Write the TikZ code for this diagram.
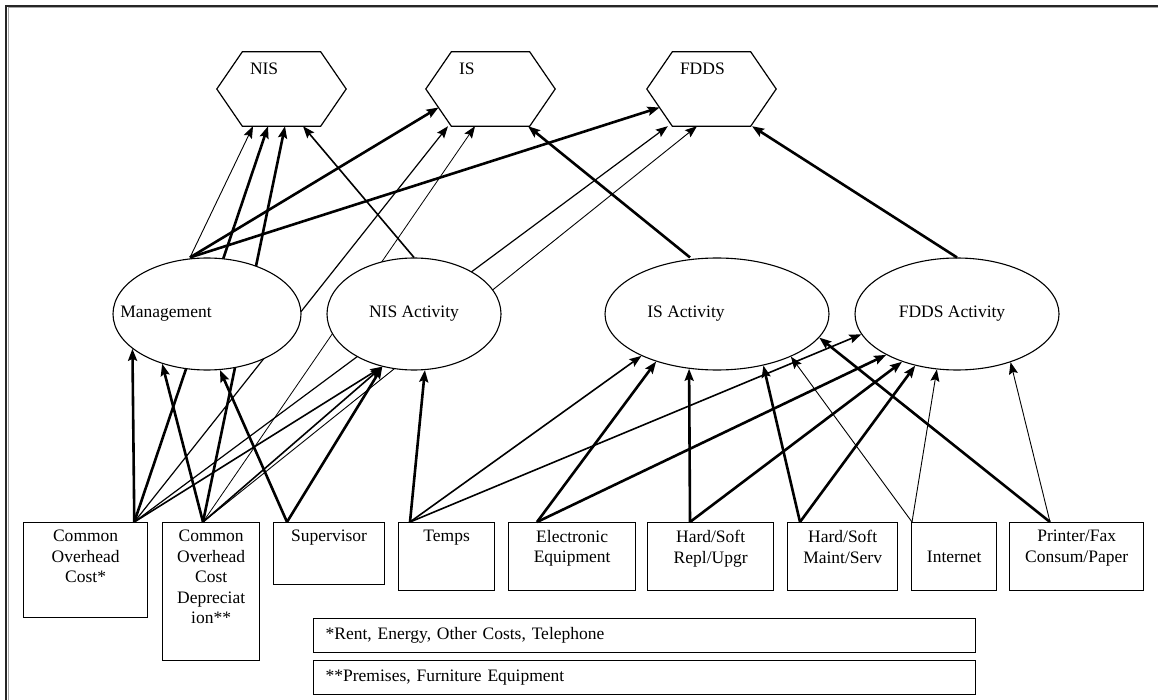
\documentclass[tikz,border=0pt]{standalone}
\usepackage{fontspec}
\setmainfont{Liberation Serif}
\usetikzlibrary{arrows.meta,shapes.geometric}
\pgfdeclarelayer{behind}
\pgfsetlayers{behind,main}

\begin{document}
\begin{tikzpicture}[x=1pt,y=-1pt,
    font=\fontsize{17.5}{20.5}\selectfont,
    hexa/.style={minimum width=129pt,minimum height=74pt,inner sep=0pt},
    hexname/.style={anchor=north west,inner sep=0pt,xshift=33pt,yshift=-11pt},
    activity/.style={ellipse,draw,fill=white,line width=1.1pt,inner sep=0pt,minimum height=112pt},
    resource/.style={draw,line width=1.3pt,anchor=north west,inner sep=0pt,minimum height=68pt},
    restext/.style={anchor=north,align=center,inner sep=0pt,yshift=-8pt},
    note/.style={draw,line width=1.3pt,anchor=north west,inner xsep=12pt,inner ysep=0pt,
                 text width=638pt,minimum height=34pt,align=left},
    alloc/.style={-{Stealth[length=12pt,width=9pt,inset=2pt]}},
    flowheavy/.style={alloc,line width=2.6pt},
    flowmid/.style={alloc,line width=1.6pt},
    flowthin/.style={alloc,line width=0.9pt}]

    \useasboundingbox (0,0) rectangle (1158,700);
    \draw[line width=1.6pt,black!85] (6,700) -- (6,6) -- (1158,6);
    \draw[line width=1pt,black!35] (8,700) -- (8,8) -- (1158,8);

    \node[hexa,label={[hexname]north west:NIS}] (nis) at (281.5,89) {};
    \node[hexa,label={[hexname]north west:IS}] (is) at (490.5,89) {};
    \node[hexa,label={[hexname]north west:FDDS}] (fdds) at (711.5,89) {};
    \foreach \h in {nis,is,fdds}
        \draw[line width=1.2pt] (\h.west) -- ([xshift=25.5pt]\h.north west) -- ([xshift=-25.5pt]\h.north east)
            -- (\h.east) -- ([xshift=-25.5pt]\h.south east) -- ([xshift=25.5pt]\h.south west) -- cycle;

    \node[activity,minimum width=188pt,label={[xshift=-41pt]center:Management}] (mgmt) at (207,314) {};
    \node[activity,minimum width=174pt,label={center:NIS Activity}] (nisact) at (414,314) {};
    \node[activity,minimum width=224pt,label={[xshift=-31pt]center:IS Activity}] (isact) at (717,314) {};
    \node[activity,minimum width=204pt,label={[xshift=-5pt]center:FDDS Activity}] (fddsact) at (957,314) {};

    \node[resource,minimum width=124pt,minimum height=95pt,label={[restext]north:Common\\Overhead\\Cost*}] (coc) at (23,522) {};
    \node[resource,minimum width=97pt,minimum height=138pt,label={[restext]north:Common\\Overhead\\Cost\\Depreciat\\ion**}] (cocd) at (162,522) {};
    \node[resource,minimum width=111pt,minimum height=62pt,label={[restext]north:Supervisor}] (sup) at (273,522) {};
    \node[resource,minimum width=96pt,label={[restext]north:Temps}] (temps) at (398,522) {};
    \node[resource,minimum width=127pt,label={[restext]north:Electronic\\Equipment}] (elec) at (508,522) {};
    \node[resource,minimum width=126pt,label={[restext]north:Hard/Soft\\Repl/Upgr}] (repl) at (647,522) {};
    \node[resource,minimum width=110pt,label={[restext]north:Hard/Soft\\Maint/Serv}] (maint) at (787,522) {};
    \node[resource,minimum width=85pt] (inet) at (911,522) {Internet};
    \node[resource,minimum width=134pt,label={[restext]north:Printer/Fax\\Consum/Paper}] (printer) at (1009,522) {};

    \node[note] (rent) at (313,618) {*Rent, Energy, Other Costs, Telephone};
    \node[note] (premises) at (313,660) {**Premises, Furniture Equipment};

    \coordinate (cocout) at ([xshift=-14pt]coc.north east);
    \coordinate (cocdout) at ([xshift=41pt]cocd.north west);
    \coordinate (supout) at ([xshift=14pt]sup.north west);
    \coordinate (tempsout) at ([xshift=12pt]temps.north west);
    \coordinate (elecout) at ([xshift=29pt]elec.north west);
    \coordinate (replout) at ([xshift=43pt]repl.north west);
    \coordinate (maintout) at ([xshift=13pt]maint.north west);
    \coordinate (inetout) at ([xshift=1pt]inet.north west);
    \coordinate (printerout) at ([xshift=41pt]printer.north west);
    \coordinate (mgmtout) at ([xshift=-17pt]mgmt.north);

    \begin{pgfonlayer}{behind}
        \draw[flowheavy] (cocout) -- ([xshift=-13.5pt]nis.south);
        \draw[flowheavy] (cocdout) -- ([xshift=3.5pt]nis.south);
        \draw[flowthin,line width=1.2pt] (cocout) -- ([xshift=-42.5pt]is.south);
        \draw[flowthin,line width=0.8pt] (cocdout) -- ([xshift=-15.5pt]is.south);
        \draw[flowthin,line width=1.2pt] (cocout) -- ([xshift=21pt]fdds.south west);
        \draw[flowthin] (cocdout) -- ([xshift=-14.5pt]fdds.south);
    \end{pgfonlayer}

    \draw[flowthin] (mgmtout) -- ([xshift=-28.5pt]nis.south);
    \draw[flowheavy] (mgmtout) -- ([xshift=12.75pt,yshift=-18.5pt]is.west);
    \draw[flowheavy] (mgmtout) -- ([xshift=12.75pt,yshift=-18.5pt]fdds.west);
    \draw[flowmid] (nisact.north) -- ([xshift=21.5pt]nis.south);
    \draw[flowheavy] ([xshift=-27pt]isact.north) -- ([xshift=37.5pt]is.south);
    \draw[flowheavy] (fddsact.north) -- ([xshift=40.5pt]fdds.south);

    \draw[flowheavy] (cocout) -- (mgmt.205);
    \draw[flowheavy] (cocdout) -- (mgmt.228);
    \draw[flowheavy] (supout) -- (mgmt.283);
    \draw[flowmid] (cocout) -- (nisact.239);
    \draw[flowmid] (cocdout) -- (nisact.239);
    \draw[flowheavy] (supout) -- (nisact.239);
    \draw[flowheavy] (tempsout) -- (nisact.281);
    \draw[flowmid] (tempsout) -- (isact.209);
    \draw[flowmid] (tempsout) -- (fddsact.192);
    \draw[flowheavy] (elecout) -- (isact.218);
    \draw[flowheavy] (elecout) -- (fddsact.210);
    \draw[flowheavy] (replout) -- (isact.243.6);
    \draw[flowheavy] (replout) -- (fddsact.221);
    \draw[flowheavy] (maintout) -- (isact.312);
    \draw[flowheavy] (maintout) -- (fddsact.231);
    \draw[flowthin] (inetout) -- (isact.330);
    \draw[flowthin] (inetout) -- (fddsact.250);
    \draw[flowheavy] (printerout) -- (isact.347);
    \draw[flowthin] (printerout) -- (fddsact.318);

\end{tikzpicture}
\end{document}
